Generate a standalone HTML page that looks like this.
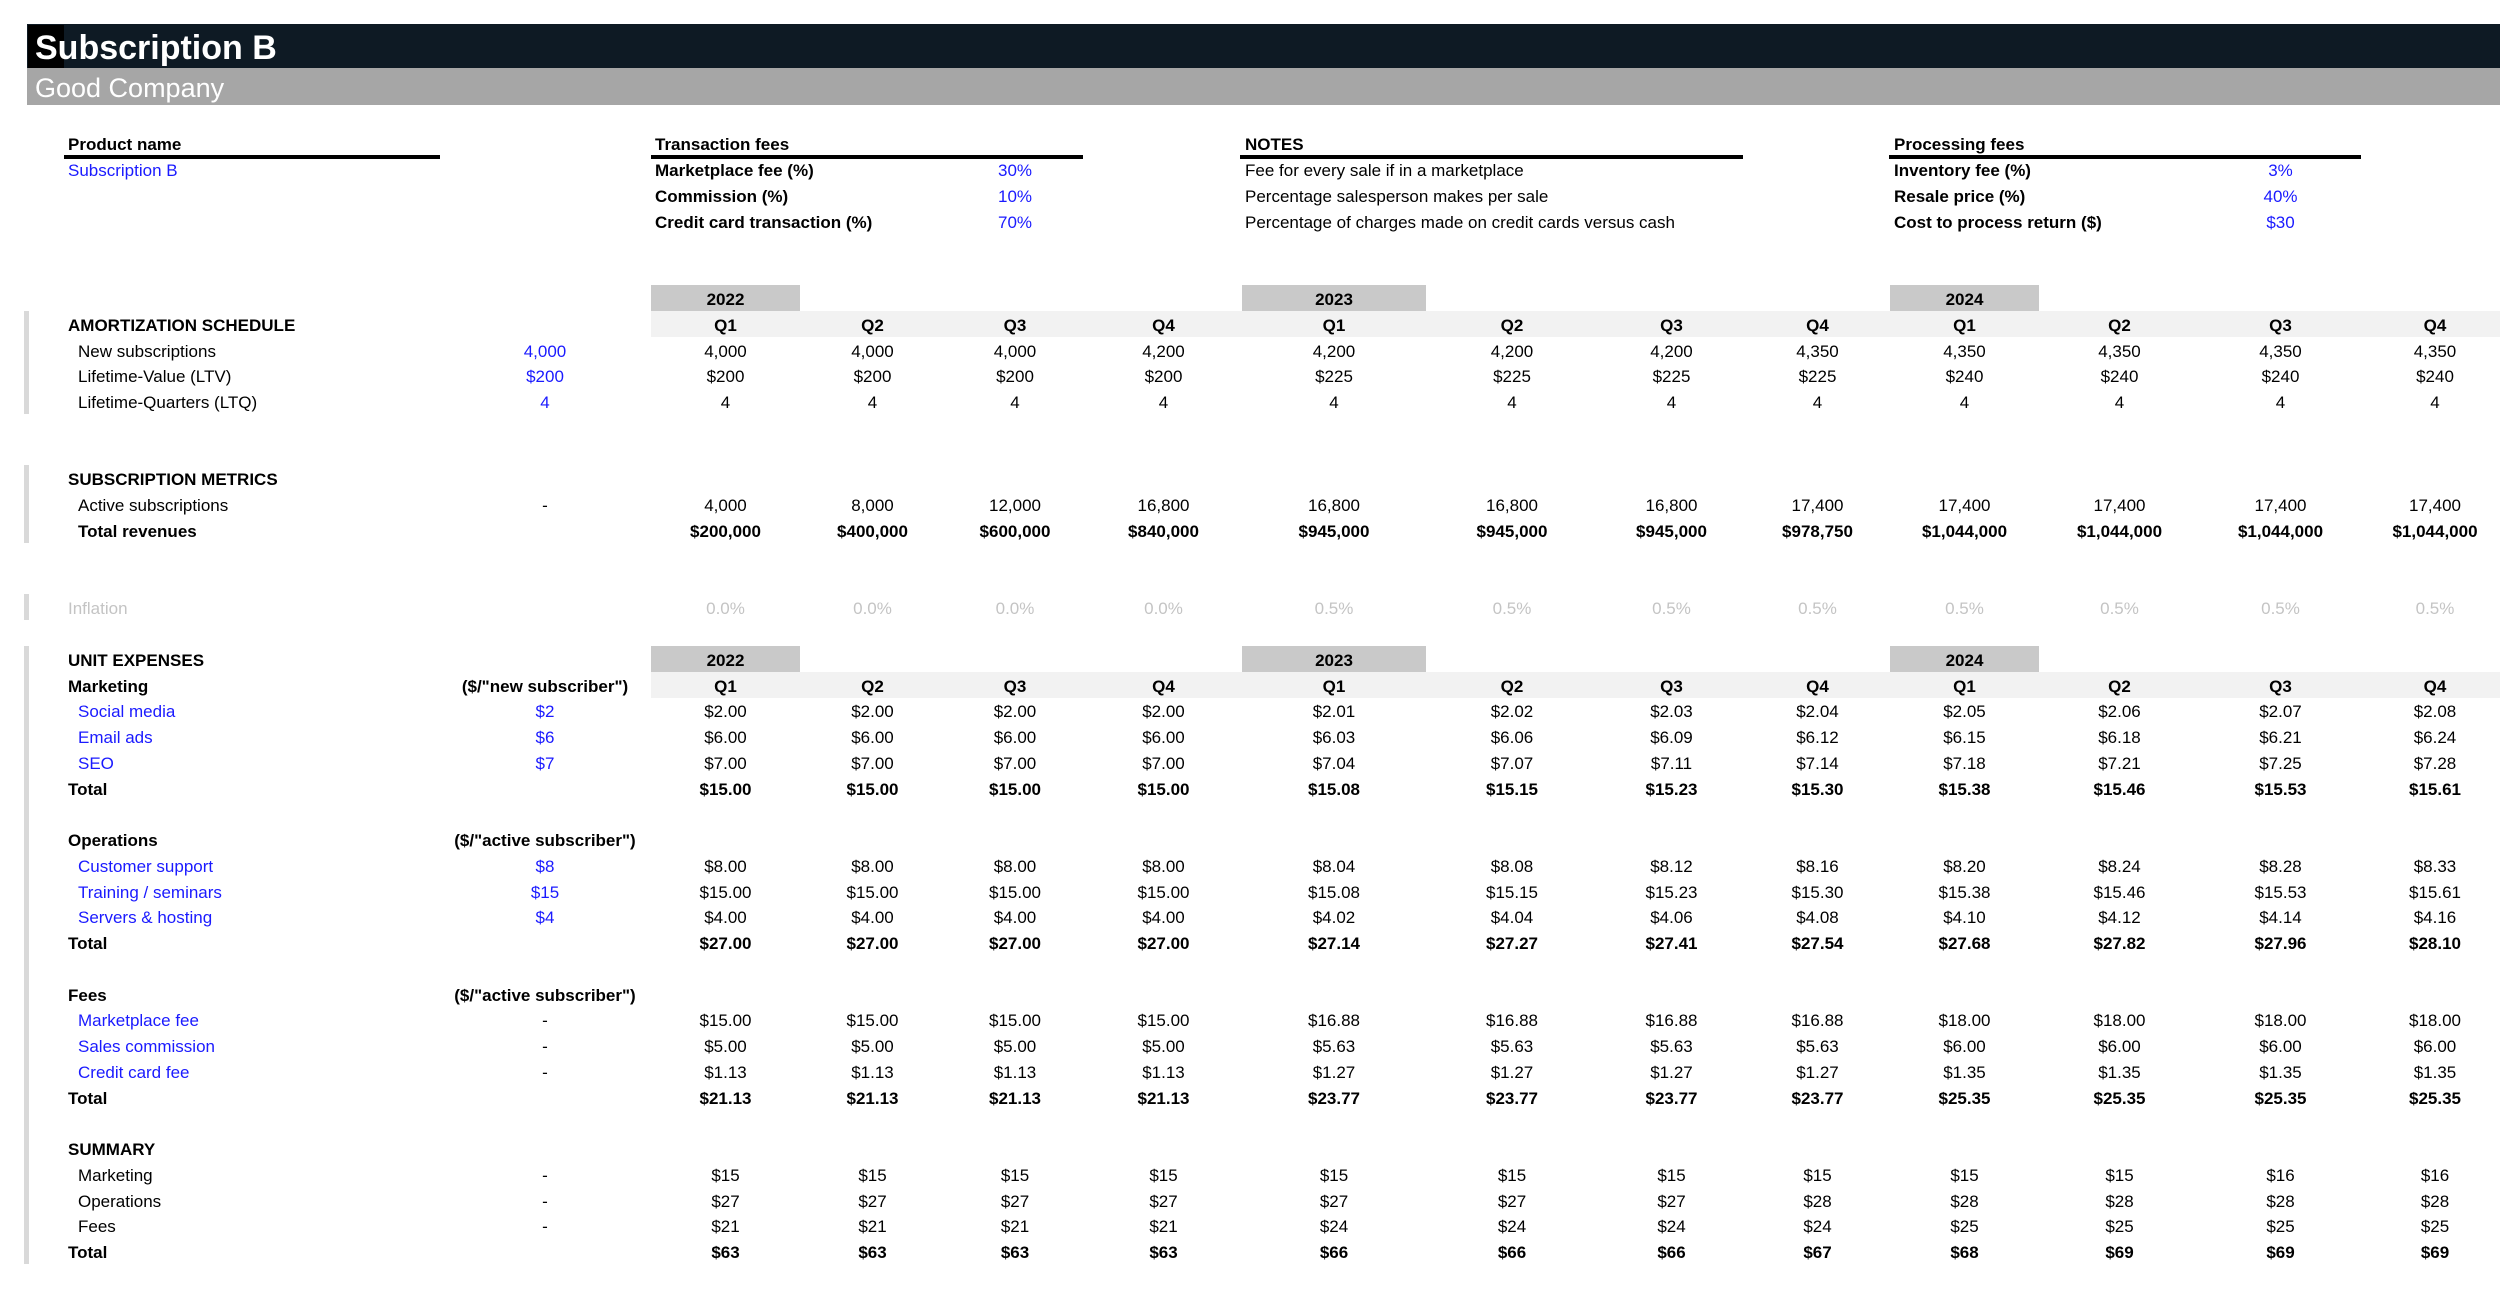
<!DOCTYPE html>
<html><head><meta charset="utf-8"><style>
*{margin:0;padding:0;box-sizing:border-box}
body{width:2500px;height:1296px;background:#fff;position:relative;overflow:hidden;font-family:"Liberation Sans",Arial,sans-serif;font-size:17px;color:#000}
.r{position:absolute;left:0;width:2500px;height:26px;line-height:26px}
.r span{position:absolute;top:2px;white-space:nowrap}
.b{font-weight:bold}.bl{color:#1a1aff}.g{color:#c4c4c4}
.lb{left:68px}.sb{left:78px}
.in{left:495px;width:100px;text-align:center}
.t1{left:655px}.nt{left:1245px}.pf{left:1894px}
.q1,.q2,.q3,.q4,.q5,.q6,.q7,.q8,.q9,.q10,.q11,.q12{text-align:center}
.q1{left:651px;width:149px}.q2{left:800px;width:145px}.q3{left:945px;width:140px}.q4{left:1085px;width:157px}
.q5{left:1242px;width:184px}.q6{left:1426px;width:172px}.q7{left:1598px;width:147px}.q8{left:1745px;width:145px}
.q9{left:1890px;width:149px}.q10{left:2039px;width:161px}.q11{left:2200px;width:161px}.q12{left:2361px;width:148px}
.bar{position:absolute;left:24px;width:5px;background:#d9d9d9}
.ul{position:absolute;height:4px;background:#000;top:155px}
.yr{position:absolute;height:26px;background:#c9c9c9}
.qb{position:absolute;left:651px;width:1849px;height:26px;background:#f2f2f2}
</style></head><body>
<div style="position:absolute;left:27px;top:24px;width:2473px;height:44px;background:#0e1a24"></div>
<div style="position:absolute;left:28px;top:25px;width:36px;height:43px;background:#000"></div>
<div style="position:absolute;left:35px;top:25px;height:44px;line-height:46px;color:#fff;font-weight:bold;font-size:34px">Subscription B</div>
<div style="position:absolute;left:27px;top:68px;width:2473px;height:37px;background:#a6a6a6"></div>
<div style="position:absolute;left:35px;top:69px;height:37px;line-height:38px;color:#fff;font-size:27px">Good Company</div>

<div class="ul" style="left:64px;width:376px"></div>
<div class="ul" style="left:651px;width:432px"></div>
<div class="ul" style="left:1240px;width:503px"></div>
<div class="ul" style="left:1889px;width:472px"></div>

<div class="bar" style="top:311px;height:103px"></div>
<div class="bar" style="top:465px;height:78px"></div>
<div class="bar" style="top:594px;height:26px"></div>
<div class="bar" style="top:646px;height:618px"></div>

<div class="yr" style="left:651px;width:149px;top:285px"></div>
<div class="yr" style="left:1242px;width:184px;top:285px"></div>
<div class="yr" style="left:1890px;width:149px;top:285px"></div>
<div class="qb" style="top:311px"></div>
<div class="yr" style="left:651px;width:149px;top:646px"></div>
<div class="yr" style="left:1242px;width:184px;top:646px"></div>
<div class="yr" style="left:1890px;width:149px;top:646px"></div>
<div class="qb" style="top:672px"></div>

<div class="r b" style="top:130px"><span class="lb">Product name</span><span class="t1">Transaction fees</span><span class="nt">NOTES</span><span class="pf">Processing fees</span></div>
<div class="r" style="top:156px"><span class="lb bl">Subscription B</span><span class="t1 b">Marketplace fee (%)</span><span class="q3 bl">30%</span><span class="nt">Fee for every sale if in a marketplace</span><span class="pf b">Inventory fee (%)</span><span class="q11 bl">3%</span></div>
<div class="r" style="top:182px"><span class="t1 b">Commission (%)</span><span class="q3 bl">10%</span><span class="nt">Percentage salesperson makes per sale</span><span class="pf b">Resale price (%)</span><span class="q11 bl">40%</span></div>
<div class="r" style="top:208px"><span class="t1 b">Credit card transaction (%)</span><span class="q3 bl">70%</span><span class="nt">Percentage of charges made on credit cards versus cash</span><span class="pf b">Cost to process return ($)</span><span class="q11 bl">$30</span></div>

<div class="r b" style="top:285px"><span class="q1">2022</span><span class="q5">2023</span><span class="q9">2024</span></div>
<div class="r b" style="top:311px"><span class="lb">AMORTIZATION SCHEDULE</span><span class="q1">Q1</span><span class="q2">Q2</span><span class="q3">Q3</span><span class="q4">Q4</span><span class="q5">Q1</span><span class="q6">Q2</span><span class="q7">Q3</span><span class="q8">Q4</span><span class="q9">Q1</span><span class="q10">Q2</span><span class="q11">Q3</span><span class="q12">Q4</span></div>
<div class="r" style="top:337px"><span class="sb">New subscriptions</span><span class="in bl">4,000</span><span class="q1">4,000</span><span class="q2">4,000</span><span class="q3">4,000</span><span class="q4">4,200</span><span class="q5">4,200</span><span class="q6">4,200</span><span class="q7">4,200</span><span class="q8">4,350</span><span class="q9">4,350</span><span class="q10">4,350</span><span class="q11">4,350</span><span class="q12">4,350</span></div>
<div class="r" style="top:362px"><span class="sb">Lifetime-Value (LTV)</span><span class="in bl">$200</span><span class="q1">$200</span><span class="q2">$200</span><span class="q3">$200</span><span class="q4">$200</span><span class="q5">$225</span><span class="q6">$225</span><span class="q7">$225</span><span class="q8">$225</span><span class="q9">$240</span><span class="q10">$240</span><span class="q11">$240</span><span class="q12">$240</span></div>
<div class="r" style="top:388px"><span class="sb">Lifetime-Quarters (LTQ)</span><span class="in bl">4</span><span class="q1">4</span><span class="q2">4</span><span class="q3">4</span><span class="q4">4</span><span class="q5">4</span><span class="q6">4</span><span class="q7">4</span><span class="q8">4</span><span class="q9">4</span><span class="q10">4</span><span class="q11">4</span><span class="q12">4</span></div>

<div class="r b" style="top:465px"><span class="lb">SUBSCRIPTION METRICS</span></div>
<div class="r" style="top:491px"><span class="sb">Active subscriptions</span><span class="in">-</span><span class="q1">4,000</span><span class="q2">8,000</span><span class="q3">12,000</span><span class="q4">16,800</span><span class="q5">16,800</span><span class="q6">16,800</span><span class="q7">16,800</span><span class="q8">17,400</span><span class="q9">17,400</span><span class="q10">17,400</span><span class="q11">17,400</span><span class="q12">17,400</span></div>
<div class="r b" style="top:517px"><span class="sb">Total revenues</span><span class="q1">$200,000</span><span class="q2">$400,000</span><span class="q3">$600,000</span><span class="q4">$840,000</span><span class="q5">$945,000</span><span class="q6">$945,000</span><span class="q7">$945,000</span><span class="q8">$978,750</span><span class="q9">$1,044,000</span><span class="q10">$1,044,000</span><span class="q11">$1,044,000</span><span class="q12">$1,044,000</span></div>

<div class="r g" style="top:594px"><span class="lb">Inflation</span><span class="q1">0.0%</span><span class="q2">0.0%</span><span class="q3">0.0%</span><span class="q4">0.0%</span><span class="q5">0.5%</span><span class="q6">0.5%</span><span class="q7">0.5%</span><span class="q8">0.5%</span><span class="q9">0.5%</span><span class="q10">0.5%</span><span class="q11">0.5%</span><span class="q12">0.5%</span></div>

<div class="r b" style="top:646px"><span class="lb">UNIT EXPENSES</span><span class="q1">2022</span><span class="q5">2023</span><span class="q9">2024</span></div>
<div class="r b" style="top:672px"><span class="lb">Marketing</span><span class="in" style="left:445px;width:200px">($/"new subscriber")</span><span class="q1">Q1</span><span class="q2">Q2</span><span class="q3">Q3</span><span class="q4">Q4</span><span class="q5">Q1</span><span class="q6">Q2</span><span class="q7">Q3</span><span class="q8">Q4</span><span class="q9">Q1</span><span class="q10">Q2</span><span class="q11">Q3</span><span class="q12">Q4</span></div>
<div class="r" style="top:697px"><span class="sb bl">Social media</span><span class="in bl">$2</span><span class="q1">$2.00</span><span class="q2">$2.00</span><span class="q3">$2.00</span><span class="q4">$2.00</span><span class="q5">$2.01</span><span class="q6">$2.02</span><span class="q7">$2.03</span><span class="q8">$2.04</span><span class="q9">$2.05</span><span class="q10">$2.06</span><span class="q11">$2.07</span><span class="q12">$2.08</span></div>
<div class="r" style="top:723px"><span class="sb bl">Email ads</span><span class="in bl">$6</span><span class="q1">$6.00</span><span class="q2">$6.00</span><span class="q3">$6.00</span><span class="q4">$6.00</span><span class="q5">$6.03</span><span class="q6">$6.06</span><span class="q7">$6.09</span><span class="q8">$6.12</span><span class="q9">$6.15</span><span class="q10">$6.18</span><span class="q11">$6.21</span><span class="q12">$6.24</span></div>
<div class="r" style="top:749px"><span class="sb bl">SEO</span><span class="in bl">$7</span><span class="q1">$7.00</span><span class="q2">$7.00</span><span class="q3">$7.00</span><span class="q4">$7.00</span><span class="q5">$7.04</span><span class="q6">$7.07</span><span class="q7">$7.11</span><span class="q8">$7.14</span><span class="q9">$7.18</span><span class="q10">$7.21</span><span class="q11">$7.25</span><span class="q12">$7.28</span></div>
<div class="r b" style="top:775px"><span class="lb">Total</span><span class="q1">$15.00</span><span class="q2">$15.00</span><span class="q3">$15.00</span><span class="q4">$15.00</span><span class="q5">$15.08</span><span class="q6">$15.15</span><span class="q7">$15.23</span><span class="q8">$15.30</span><span class="q9">$15.38</span><span class="q10">$15.46</span><span class="q11">$15.53</span><span class="q12">$15.61</span></div>

<div class="r b" style="top:826px"><span class="lb">Operations</span><span class="in" style="left:445px;width:200px">($/"active subscriber")</span></div>
<div class="r" style="top:852px"><span class="sb bl">Customer support</span><span class="in bl">$8</span><span class="q1">$8.00</span><span class="q2">$8.00</span><span class="q3">$8.00</span><span class="q4">$8.00</span><span class="q5">$8.04</span><span class="q6">$8.08</span><span class="q7">$8.12</span><span class="q8">$8.16</span><span class="q9">$8.20</span><span class="q10">$8.24</span><span class="q11">$8.28</span><span class="q12">$8.33</span></div>
<div class="r" style="top:878px"><span class="sb bl">Training / seminars</span><span class="in bl">$15</span><span class="q1">$15.00</span><span class="q2">$15.00</span><span class="q3">$15.00</span><span class="q4">$15.00</span><span class="q5">$15.08</span><span class="q6">$15.15</span><span class="q7">$15.23</span><span class="q8">$15.30</span><span class="q9">$15.38</span><span class="q10">$15.46</span><span class="q11">$15.53</span><span class="q12">$15.61</span></div>
<div class="r" style="top:903px"><span class="sb bl">Servers &amp; hosting</span><span class="in bl">$4</span><span class="q1">$4.00</span><span class="q2">$4.00</span><span class="q3">$4.00</span><span class="q4">$4.00</span><span class="q5">$4.02</span><span class="q6">$4.04</span><span class="q7">$4.06</span><span class="q8">$4.08</span><span class="q9">$4.10</span><span class="q10">$4.12</span><span class="q11">$4.14</span><span class="q12">$4.16</span></div>
<div class="r b" style="top:929px"><span class="lb">Total</span><span class="q1">$27.00</span><span class="q2">$27.00</span><span class="q3">$27.00</span><span class="q4">$27.00</span><span class="q5">$27.14</span><span class="q6">$27.27</span><span class="q7">$27.41</span><span class="q8">$27.54</span><span class="q9">$27.68</span><span class="q10">$27.82</span><span class="q11">$27.96</span><span class="q12">$28.10</span></div>

<div class="r b" style="top:981px"><span class="lb">Fees</span><span class="in" style="left:445px;width:200px">($/"active subscriber")</span></div>
<div class="r" style="top:1006px"><span class="sb bl">Marketplace fee</span><span class="in">-</span><span class="q1">$15.00</span><span class="q2">$15.00</span><span class="q3">$15.00</span><span class="q4">$15.00</span><span class="q5">$16.88</span><span class="q6">$16.88</span><span class="q7">$16.88</span><span class="q8">$16.88</span><span class="q9">$18.00</span><span class="q10">$18.00</span><span class="q11">$18.00</span><span class="q12">$18.00</span></div>
<div class="r" style="top:1032px"><span class="sb bl">Sales commission</span><span class="in">-</span><span class="q1">$5.00</span><span class="q2">$5.00</span><span class="q3">$5.00</span><span class="q4">$5.00</span><span class="q5">$5.63</span><span class="q6">$5.63</span><span class="q7">$5.63</span><span class="q8">$5.63</span><span class="q9">$6.00</span><span class="q10">$6.00</span><span class="q11">$6.00</span><span class="q12">$6.00</span></div>
<div class="r" style="top:1058px"><span class="sb bl">Credit card fee</span><span class="in">-</span><span class="q1">$1.13</span><span class="q2">$1.13</span><span class="q3">$1.13</span><span class="q4">$1.13</span><span class="q5">$1.27</span><span class="q6">$1.27</span><span class="q7">$1.27</span><span class="q8">$1.27</span><span class="q9">$1.35</span><span class="q10">$1.35</span><span class="q11">$1.35</span><span class="q12">$1.35</span></div>
<div class="r b" style="top:1084px"><span class="lb">Total</span><span class="q1">$21.13</span><span class="q2">$21.13</span><span class="q3">$21.13</span><span class="q4">$21.13</span><span class="q5">$23.77</span><span class="q6">$23.77</span><span class="q7">$23.77</span><span class="q8">$23.77</span><span class="q9">$25.35</span><span class="q10">$25.35</span><span class="q11">$25.35</span><span class="q12">$25.35</span></div>

<div class="r b" style="top:1135px"><span class="lb">SUMMARY</span></div>
<div class="r" style="top:1161px"><span class="sb">Marketing</span><span class="in">-</span><span class="q1">$15</span><span class="q2">$15</span><span class="q3">$15</span><span class="q4">$15</span><span class="q5">$15</span><span class="q6">$15</span><span class="q7">$15</span><span class="q8">$15</span><span class="q9">$15</span><span class="q10">$15</span><span class="q11">$16</span><span class="q12">$16</span></div>
<div class="r" style="top:1187px"><span class="sb">Operations</span><span class="in">-</span><span class="q1">$27</span><span class="q2">$27</span><span class="q3">$27</span><span class="q4">$27</span><span class="q5">$27</span><span class="q6">$27</span><span class="q7">$27</span><span class="q8">$28</span><span class="q9">$28</span><span class="q10">$28</span><span class="q11">$28</span><span class="q12">$28</span></div>
<div class="r" style="top:1212px"><span class="sb">Fees</span><span class="in">-</span><span class="q1">$21</span><span class="q2">$21</span><span class="q3">$21</span><span class="q4">$21</span><span class="q5">$24</span><span class="q6">$24</span><span class="q7">$24</span><span class="q8">$24</span><span class="q9">$25</span><span class="q10">$25</span><span class="q11">$25</span><span class="q12">$25</span></div>
<div class="r b" style="top:1238px"><span class="lb">Total</span><span class="q1">$63</span><span class="q2">$63</span><span class="q3">$63</span><span class="q4">$63</span><span class="q5">$66</span><span class="q6">$66</span><span class="q7">$66</span><span class="q8">$67</span><span class="q9">$68</span><span class="q10">$69</span><span class="q11">$69</span><span class="q12">$69</span></div>
</body></html>
